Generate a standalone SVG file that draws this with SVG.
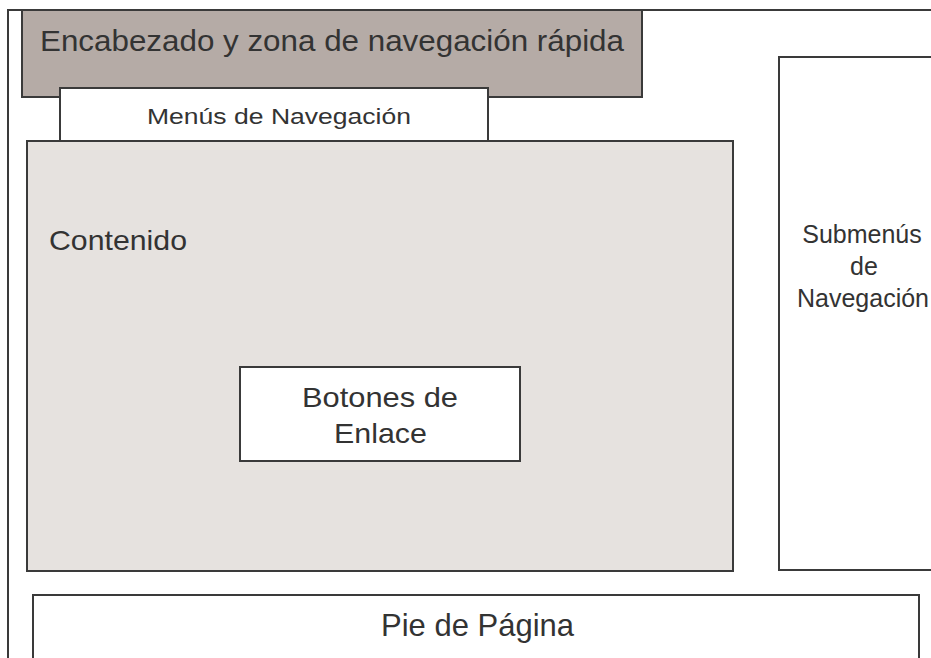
<svg xmlns="http://www.w3.org/2000/svg" width="931" height="658" viewBox="0 0 931 658">
<style>
.box{stroke:#3a3a3a;stroke-width:2}
.t{font-family:"Liberation Sans",Arial,sans-serif;fill:#333333}
.m{text-anchor:middle}
</style>
<rect width="931" height="658" fill="#ffffff"/>
<g id="frame"><path d="M8,658 V10 H931" fill="none" class="box"/></g>
<g id="header">
<rect x="22" y="10" width="620" height="87" fill="#b5aba6" class="box"/>
<text class="t" x="40" y="51" font-size="30" textLength="584" lengthAdjust="spacingAndGlyphs">Encabezado y zona de navegación rápida</text>
</g>
<g id="menus">
<rect x="60" y="88" width="428" height="60" fill="#ffffff" class="box"/>
<text class="t" x="147" y="124" font-size="22.5" textLength="264" lengthAdjust="spacingAndGlyphs">Menús de Navegación</text>
</g>
<g id="contenido">
<rect x="27" y="141" width="706" height="430" fill="#e6e2df" class="box"/>
<text class="t" x="49" y="250" font-size="28" textLength="138" lengthAdjust="spacingAndGlyphs">Contenido</text>
</g>
<g id="botones">
<rect x="240" y="367" width="280" height="94" fill="#ffffff" class="box"/>
<text class="t" x="302" y="407" font-size="28" textLength="156" lengthAdjust="spacingAndGlyphs">Botones de</text>
<text class="t" x="334" y="443" font-size="28" textLength="93" lengthAdjust="spacingAndGlyphs">Enlace</text>
</g>
<g id="submenus">
<rect x="779" y="57" width="160" height="513" fill="#ffffff" class="box"/>
<text class="t m" x="862" y="243" font-size="25">Submenús</text>
<text class="t m" x="864" y="275" font-size="25">de</text>
<text class="t m" x="863" y="307" font-size="25">Navegación</text>
</g>
<g id="pie">
<rect x="33" y="595" width="886" height="70" fill="#ffffff" class="box"/>
<text class="t" x="381" y="636" font-size="32" textLength="193" lengthAdjust="spacingAndGlyphs">Pie de Página</text>
</g>
<g id="connectors"></g>
</svg>
